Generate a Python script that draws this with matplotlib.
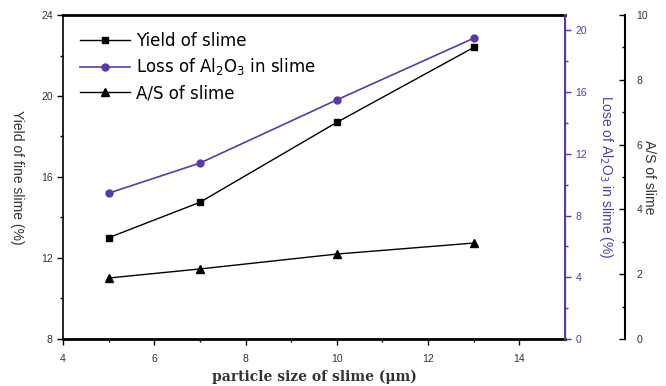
import numpy as np
import matplotlib.pyplot as plt

size = [5, 7, 10, 13]
yield_slime = [13.0, 14.75, 18.7, 22.4]
loss_al2o3 = [9.45, 11.4, 15.5, 19.5]
as_slime = [1.88, 2.16, 2.62, 2.96]

purple = '#5b3aa6'
plt.rcParams['font.family'] = ['Liberation Sans', 'DejaVu Sans']

fig = plt.figure(figsize=(6.66, 3.86), dpi=100)
ax = fig.add_axes([0.0946, 0.122, 0.7538, 0.839])
ax2 = ax.twinx()
ax3 = ax.twinx()
ax3.spines['right'].set_position(('axes', 1.12))

l1, = ax.plot(size, yield_slime, '-s', color='black', lw=1, ms=5, label='Yield of slime')
l2, = ax2.plot(size, loss_al2o3, '-o', color=purple, lw=1.2, ms=5, label='Loss of Al$_2$O$_3$ in slime')
l3, = ax3.plot(size, as_slime, '-^', color='black', lw=1, ms=6, label='A/S of slime')

ax.set_xlim(4, 15)
ax.set_ylim(8, 24)
ax2.set_ylim(0, 21)
ax3.set_ylim(0, 10)
ax.set_xticks([4, 6, 8, 10, 12, 14])
ax.set_xticks(np.arange(5, 15, 2), minor=True)
ax.set_yticks([8, 12, 16, 20, 24])
ax.set_yticks([10, 14, 18, 22], minor=True)
ax2.set_yticks([0, 4, 8, 12, 16, 20])
ax2.set_yticks([2, 6, 10, 14, 18], minor=True)
ax3.set_yticks([0, 2, 4, 6, 8, 10])
ax3.set_yticks([1, 3, 5, 7, 9], minor=True)

for a in (ax, ax2, ax3):
    a.tick_params(labelsize=7.5, direction='out', length=4, width=1, labelcolor='#333333')
    a.tick_params(which='minor', direction='out', length=2.5, width=1)
ax.tick_params(axis='x', pad=7)
ax3.tick_params(axis='y', which='both', direction='in', pad=8)
ax.spines['top'].set_linewidth(2)
ax.spines['bottom'].set_linewidth(2)
ax.spines['left'].set_linewidth(1.2)
ax2.spines['right'].set_color(purple)
ax2.spines['right'].set_linewidth(1.5)
ax2.tick_params(axis='y', which='both', colors=purple, labelcolor=purple)
ax3.spines['right'].set_linewidth(1.5)
for a in (ax2, ax3):
    a.spines['top'].set_visible(False)
    a.spines['left'].set_visible(False)
    a.spines['bottom'].set_visible(False)

ax.set_xlabel('particle size of slime (\u03bcm)', family='DejaVu Serif', fontsize=10, fontweight='bold', color='#333333', labelpad=4)
ax.set_ylabel('Yield of fine slime (%)', rotation=270, labelpad=22, fontsize=10, color='#333333')
ax2.set_ylabel('Lose of Al$_2$O$_3$ in slime (%)', rotation=270, labelpad=20, fontsize=10, color=purple)
ax3.set_ylabel('A/S of slime', rotation=270, labelpad=6, fontsize=10, color='#333333')

ax.legend(handles=[l1, l2, l3], loc='upper left', frameon=False,
          prop={'family': 'DejaVu Sans', 'size': 12},
          handlelength=3.0, handletextpad=0.4, borderaxespad=0.4, borderpad=0.6,
          labelspacing=0.4, bbox_to_anchor=(0.0, 1.0))

fig.savefig('out.png', dpi=100)
